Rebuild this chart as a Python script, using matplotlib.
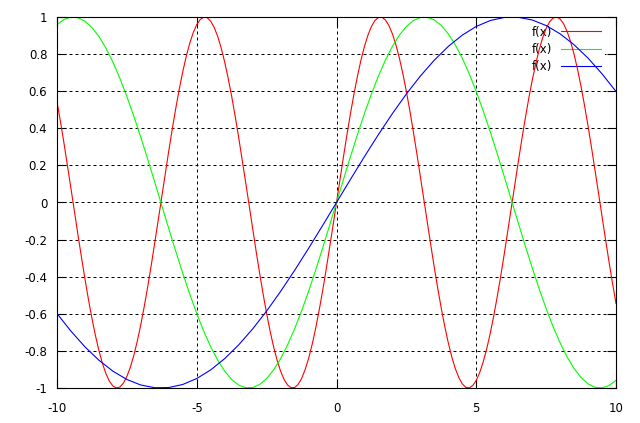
import numpy as np
import matplotlib
matplotlib.use('Agg')
import matplotlib.pyplot as plt

# red curve, sampled every 0.125 on [-10, 10]
x_red = np.arange(-10, 10.0001, 0.125)
y_red = [0.5440, 0.4351, 0.3195, 0.1989, 0.0752, -0.0498, -0.1739, -0.2953,
         -0.4121, -0.5225, -0.6247, -0.7172, -0.7985, -0.8673, -0.9224, -0.9635,
         -0.9894, -0.9998, -0.9945, -0.9739, -0.9380, -0.8875, -0.8233, -0.7458,
         -0.6570, -0.5579, -0.4500, -0.3352, -0.2151, -0.0917, 0.0332, 0.1575,
         0.2794, 0.3970, 0.5083, 0.6117, 0.7055, 0.7884, 0.8589, 0.9161,
         0.9589, 0.9868, 0.9993, 0.9962, 0.9775, 0.9436, 0.8950, 0.8324,
         0.7568, 0.6694, 0.5716, 0.4648, 0.3508, 0.2313, 0.1082, -0.0166,
         -0.1411, -0.2634, -0.3817, -0.4939, -0.5985, -0.6937, -0.7781, -0.8503,
         -0.9093, -0.9541, -0.9840, -0.9985, -0.9975, -0.9809, -0.9490, -0.9023,
         -0.8415, -0.7675, -0.6816, -0.5851, -0.4794, -0.3663, -0.2474, -0.1247,
         0.0,
         0.1247, 0.2474, 0.3663, 0.4794, 0.5851, 0.6816, 0.7675, 0.8415,
         0.9023, 0.9490, 0.9809, 0.9975, 0.9985, 0.9840, 0.9541, 0.9093,
         0.8503, 0.7781, 0.6937, 0.5985, 0.4939, 0.3817, 0.2634, 0.1411,
         0.0166, -0.1082, -0.2313, -0.3508, -0.4648, -0.5716, -0.6694, -0.7568,
         -0.8324, -0.8950, -0.9436, -0.9775, -0.9962, -0.9993, -0.9868, -0.9589,
         -0.9161, -0.8589, -0.7884, -0.7055, -0.6117, -0.5083, -0.3970, -0.2794,
         -0.1575, -0.0332, 0.0917, 0.2151, 0.3352, 0.4500, 0.5579, 0.6570,
         0.7458, 0.8233, 0.8875, 0.9380, 0.9739, 0.9945, 0.9998, 0.9894,
         0.9635, 0.9224, 0.8673, 0.7985, 0.7172, 0.6247, 0.5225, 0.4121,
         0.2953, 0.1739, 0.0498, -0.0752, -0.1989, -0.3195, -0.4351, -0.5440]

# green curve, sampled every 0.25
x_green = np.arange(-10, 10.0001, 0.25)
y_green = [0.9589, 0.9868, 0.9993, 0.9962, 0.9775, 0.9436, 0.8950, 0.8324,
           0.7568, 0.6694, 0.5716, 0.4648, 0.3508, 0.2313, 0.1082, -0.0166,
           -0.1411, -0.2634, -0.3817, -0.4939, -0.5985, -0.6937, -0.7781, -0.8503,
           -0.9093, -0.9541, -0.9840, -0.9985, -0.9975, -0.9809, -0.9490, -0.9023,
           -0.8415, -0.7675, -0.6816, -0.5851, -0.4794, -0.3663, -0.2474, -0.1247,
           0.0,
           0.1247, 0.2474, 0.3663, 0.4794, 0.5851, 0.6816, 0.7675, 0.8415,
           0.9023, 0.9490, 0.9809, 0.9975, 0.9985, 0.9840, 0.9541, 0.9093,
           0.8503, 0.7781, 0.6937, 0.5985, 0.4939, 0.3817, 0.2634, 0.1411,
           0.0166, -0.1082, -0.2313, -0.3508, -0.4648, -0.5716, -0.6694, -0.7568,
           -0.8324, -0.8950, -0.9436, -0.9775, -0.9962, -0.9993, -0.9868, -0.9589]

# blue curve, sampled every 0.5
x_blue = np.arange(-10, 10.0001, 0.5)
y_blue = [-0.5985, -0.6937, -0.7781, -0.8503, -0.9093, -0.9541, -0.9840,
          -0.9985, -0.9975, -0.9809, -0.9490, -0.9023, -0.8415, -0.7675,
          -0.6816, -0.5851, -0.4794, -0.3663, -0.2474, -0.1247, 0.0,
          0.1247, 0.2474, 0.3663, 0.4794, 0.5851, 0.6816, 0.7675, 0.8415,
          0.9023, 0.9490, 0.9809, 0.9975, 0.9985, 0.9840, 0.9541, 0.9093,
          0.8503, 0.7781, 0.6937, 0.5985]

xticks = [-10, -5, 0, 5, 10]
yticks = [-1, -0.8, -0.6, -0.4, -0.2, 0, 0.2, 0.4, 0.6, 0.8, 1]
ytick_labels = ['-1', '-0.8', '-0.6', '-0.4', '-0.2', '0', '0.2', '0.4', '0.6', '0.8', '1']

fig = plt.figure(figsize=(6.4, 4.23), dpi=100)
ax = fig.add_axes([57 / 640, 1 - 388 / 423, (616 - 57) / 640, (388 - 17) / 423])

ax.plot(x_red, y_red, color='#ff0000', lw=0.8, label='f(x)', zorder=6)
ax.plot(x_green, y_green, color='#00ff00', lw=0.8, label='f(x)', zorder=6)
ax.plot(x_blue, y_blue, color='#0000ff', lw=0.8, label='f(x)', zorder=6)

ax.set_xlim(-10, 10)
ax.set_ylim(-1, 1)
ax.set_xticks(xticks)
ax.set_xticklabels([str(t) for t in xticks])
ax.set_yticks(yticks)
ax.set_yticklabels(ytick_labels)
ax.tick_params(direction='in', length=6.5, width=0.8, colors='black',
               top=True, right=True, labelsize=8.5)
ax.tick_params(axis='x', pad=10)
ax.tick_params(axis='y', pad=7)
ax.grid(True, color='black', lw=0.72, linestyle=(0, (3, 3)), zorder=1)
for s in ax.spines.values():
    s.set_linewidth(0.8)
    s.set_zorder(7)

leg = ax.legend(loc='upper right', bbox_to_anchor=(1 - 4 / 559, 1 + 2 / 371),
                markerfirst=False, frameon=True,
                fontsize=8.5, handlelength=3.4, handletextpad=0.8,
                labelspacing=0.35, borderpad=0.3, borderaxespad=0.6,
                fancybox=False)
leg.get_frame().set_facecolor('white')
leg.get_frame().set_edgecolor('none')
leg.get_frame().set_alpha(1)
leg.set_zorder(5)

fig.savefig('out.png', dpi=100)
